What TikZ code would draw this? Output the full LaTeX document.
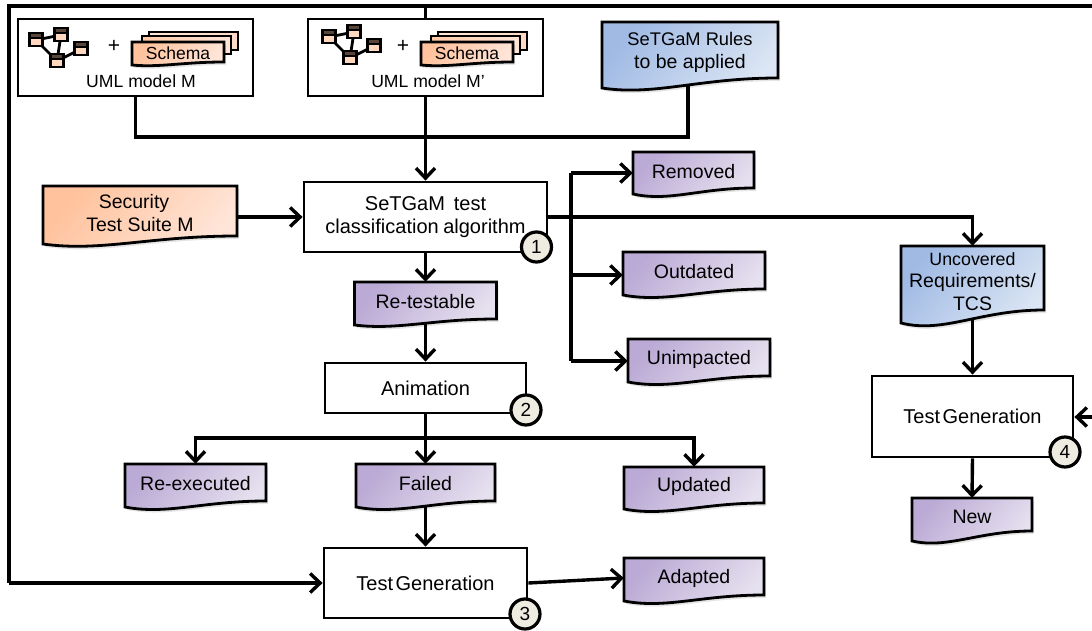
\documentclass[tikz,border=0pt]{standalone}
\usepackage{fontspec}
\setmainfont{Liberation Sans}
\usetikzlibrary{arrows.meta}
\pgfdeclarelayer{connlayer}
\pgfsetlayers{connlayer,main}
\definecolor{purpA}{HTML}{BBAAD5}
\definecolor{purpB}{HTML}{E6E1EF}
\definecolor{blueA}{HTML}{A0BAE4}
\definecolor{blueB}{HTML}{DCE6F4}
\definecolor{orA}{HTML}{FFC29C}
\definecolor{orB}{HTML}{FFE5D8}
\definecolor{badge}{HTML}{EEECE1}
\definecolor{pkgband}{HTML}{5A4638}
\definecolor{pkgfill}{HTML}{FFD8BF}
\tikzset{
  x=1pt,y=-1pt,
  conn/.style={line width=3.4pt,-{Straight Barb[length=10pt,width=19pt]}},
  plainconn/.style={line width=3.4pt},
  stepbox/.style={draw=black,fill=white,line width=2.8pt,rectangle,inner sep=0pt,align=center,font=\fontsize{20}{24}\selectfont},
  doctext/.style={rectangle,inner sep=0pt,align=center,font=\fontsize{19.5}{22.5}\selectfont},
  docline/.style={draw=black,line width=2.8pt,line join=miter},
  badgenode/.style={circle,draw=black,fill=badge,line width=3.2pt,minimum size=30pt,inner sep=0pt,font=\fontsize{19}{22}\selectfont},
  pkgbox/.style={draw=black,fill=pkgfill,line width=2.6pt},
  pkgline/.style={draw=black,line width=2.8pt},
  smalltext/.style={inner sep=0pt,font=\fontsize{17.6}{21}\selectfont},
  plustext/.style={inner sep=0pt,font=\fontsize{21}{24}\selectfont},
}
% name x1 y1 x2 yright yleft ylow colourprefix text
\newcommand\docnode[9]{%
  \pgfmathsetmacro\dw{#4-#2}%
  \pgfmathsetmacro\cax{#2+0.3*\dw}%
  \pgfmathsetmacro\cay{#6+2.7*(#7-#6)}%
  \pgfmathsetmacro\cbx{#2+0.55*\dw}%
  \pgfmathsetmacro\midy{(#5+#6)/2}%
  \pgfmathsetmacro\cx{(#2+#4)/2}%
  \pgfmathsetmacro\cy{(#3+\midy)/2}%
  \pgfmathsetmacro\hh{\midy-#3}%
  \fill[black,opacity=.10,shift={(2,3)}] (#2,#3) -- (#4,#3) -- (#4,#5) .. controls (\cbx,#5) and (\cax,\cay) .. (#2,#6) -- cycle;
  \path[docline,top color=#8A,bottom color=#8B,shading angle=50]
    (#2,#3) -- (#4,#3) -- (#4,#5) .. controls (\cbx,#5) and (\cax,\cay) .. (#2,#6) -- cycle;
  \node[doctext,minimum width=\dw pt,minimum height=\hh pt] (#1) at (\cx,\cy) {#9};
}
\newcommand\umlmodel[3]{% x shift of icon, y shift of icon, x shift of stack
  \begin{scope}[shift={(#1,#2)}]
    \draw[pkgline] (36,40) -- (61,35) (36,40) -- (57,61) (61,35) -- (57,61) (57,61) -- (81,49);
    \foreach \px/\py in {36/40,61/35,81/49,57/61}{
      \fill[pkgband] (\px-6.5,\py-7) rectangle (\px+6.5,\py-2);
      \draw[pkgbox,fill=pkgfill] (\px-6.5,\py-2) rectangle (\px+6.5,\py+6);
      \draw[line width=2.6pt] (\px-6.5,\py-7) rectangle (\px+6.5,\py+6);
    }
  \end{scope}
  \begin{scope}[shift={(#3,0)}]
    \path[docline,left color=orB,right color=orB!70!orA] (149,32) rectangle (238,50);
    \path[docline,left color=orA!80!orB,right color=orB] (142,36) rectangle (231,54);
  \end{scope}
}
\begin{document}
\begin{tikzpicture}
\useasboundingbox (0,0) rectangle (1092,631);

% free ends
\coordinate (topL) at (9,6);
\coordinate (topR) at (1092,6);
\coordinate (topJ) at (425.5,6);
\coordinate (botL) at (9,583);
\coordinate (merge) at (425.5,137);
\coordinate (trunkA) at (571,173);
\coordinate (trunkB) at (571,217);
\coordinate (trunkC) at (571,275);
\coordinate (trunkD) at (571,361);
\coordinate (branch) at (425.5,438);
\coordinate (rightIn) at (1092,417);

% step boxes
\node[stepbox,minimum width=235pt,minimum height=77pt] (modelM) at (135.5,57.5) {};
\node[stepbox,minimum width=235pt,minimum height=77pt] (modelMp) at (425.5,57.5) {};
\node[stepbox,minimum width=243pt,minimum height=70pt] (classif) at (425.5,217) {SeTGaM\, test\\[-.5pt]classification\hspace{4.5pt}algorithm};
\node[stepbox,minimum width=201pt,minimum height=50pt] (anim) at (425.5,388) {Animation};
\node[stepbox,minimum width=203pt,minimum height=70pt] (gen3) at (425.5,583) {Test\hspace{2.5pt}Generation};
\node[stepbox,minimum width=201pt,minimum height=81pt] (gen4) at (972.5,416.5) {Test\hspace{2.5pt}Generation};

% documents
\docnode{rules}{602}{22}{778}{78}{88}{91}{blue}{\fontsize{18.3}{22}\selectfont SeTGaM Rules\\to be applied}
\docnode{suite}{43}{186}{237}{236}{244}{247}{or}{Security\hspace*{12pt}\\Test Suite M}
\docnode{retest}{354.5}{282}{496.5}{319}{325}{327}{purp}{Re-testable}
\docnode{removed}{633}{152}{754}{188}{194}{197}{purp}{Removed}
\docnode{outdated}{623}{252}{765}{289}{295}{298}{purp}{Outdated}
\docnode{unimp}{628}{339}{770}{376}{382}{385}{purp}{Unimpacted}
\docnode{reexec}{125}{464}{266}{501}{507}{510}{purp}{Re-executed}
\docnode{failed}{356}{464}{495}{501}{507}{510}{purp}{Failed}
\docnode{updated}{624}{467}{764}{503}{509}{512}{purp}{Updated}
\docnode{adapted}{624}{558}{764}{595}{601}{604}{purp}{Adapted}
\docnode{uncov}{901}{246}{1044}{310}{323}{327}{blue}{\fontsize{17.8}{21}\selectfont Uncovered\\Requirements/\\TCS}
\docnode{newdoc}{912}{498}{1032}{531}{541}{544}{purp}{New}

% model contents
\umlmodel{0}{0}{0}
\umlmodel{293}{-3}{289}
\docnode{schemaA}{132}{42}{224}{62}{65}{66}{or}{\fontsize{17.5}{20}\selectfont Schema}
\docnode{schemaB}{421}{42}{513}{62}{65}{66}{or}{\fontsize{17.5}{20}\selectfont Schema}
\node[plustext] (plusA) at (114,46) {+};
\node[plustext] (plusB) at (403,46) {+};
\node[smalltext] (labelA) at (141,81) {UML model M};
\node[smalltext] (labelB) at (428,81) {UML model M’};

% badges
\node[badgenode] (b1) at (536.5,247) {1};
\node[badgenode] (b2) at (526,410) {2};
\node[badgenode] (b3) at (525,614) {3};
\node[badgenode] (b4) at (1065,452) {4};

% connectors
\begin{pgfonlayer}{connlayer}
\draw[line width=4pt] (topR) -- (topL) -- (botL);
\draw[plainconn] (topJ) -- (modelMp.north);
\draw[conn] (botL) -- (gen3.west);
\draw[plainconn] (modelM.south) |- (merge);
\draw[plainconn] ([xshift=-2pt]rules.south) |- (merge);
\draw[conn] (modelMp.south) -- (classif.north);
\draw[conn] (suite.east |- classif.west) -- (classif.west);
\draw[conn] (classif.south) -- (retest.north);
\draw[conn] (retest.south) -- (anim.north);
\draw[plainconn] (anim.south) -- (branch);
\draw[conn] (branch) -- (failed.north);
\draw[conn] (branch) -| (reexec.north);
\draw[conn] (branch) -| (updated.north);
\draw[conn] (failed.south) -- (gen3.north);
\draw[conn] (gen3.east) -- (adapted.west);
\draw[plainconn] (trunkB) -- (trunkA);
\draw[plainconn] (trunkB) -- (trunkD);
\draw[conn] (trunkA) -- (trunkA -| removed.west);
\draw[conn] (trunkC) -- (trunkC -| outdated.west);
\draw[conn] (trunkD) -- (trunkD -| unimp.west);
\draw[conn] (classif.east |- trunkB) -| (uncov.north);
\draw[conn] (uncov.south) -- (gen4.north);
\draw[conn] (gen4.south) -- (newdoc.north);
\draw[conn] (rightIn) -- (gen4.east |- rightIn);
\end{pgfonlayer}
\end{tikzpicture}
\end{document}
